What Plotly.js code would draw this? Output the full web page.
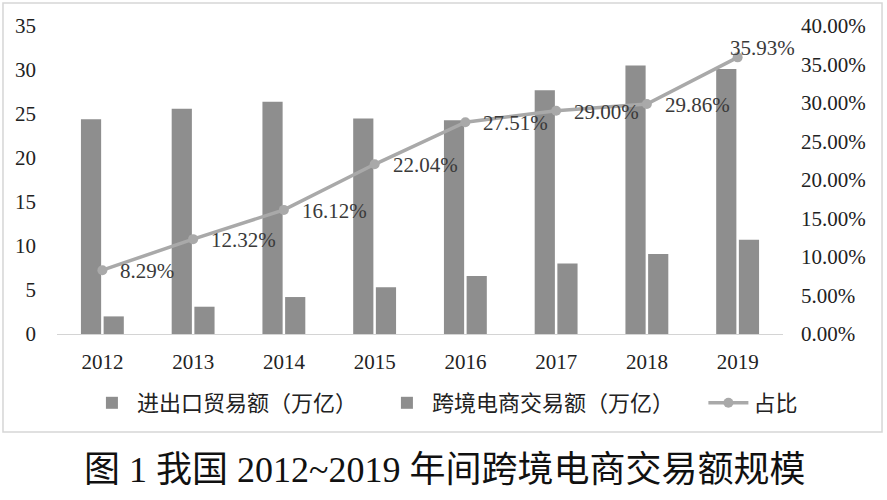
<!DOCTYPE html>
<html>
<head>
<meta charset="utf-8">
<script src="https://cdn.plot.ly/plotly-3.0.1.min.js"></script>
<style>html,body{margin:0;padding:0;background:#fff;}#chart{width:887px;height:500px;}</style>
</head>
<body>
<div id="chart"></div>
<script>
// ---- data ----
const years = ['2012','2013','2014','2015','2016','2017','2018','2019'];
const tradeTotal = [24.4, 25.6, 26.4, 24.5, 24.3, 27.7, 30.5, 30.1];      // 进出口贸易额（万亿）
const crossBorder = [2.0, 3.1, 4.2, 5.3, 6.6, 8.0, 9.1, 10.7];          // 跨境电商交易额（万亿）
const share = [0.0829, 0.1232, 0.1612, 0.2204, 0.2751, 0.2900, 0.2986, 0.3593]; // 占比
const shareLabels = ['8.29%','12.32%','16.12%','22.04%','27.51%','29.00%','29.86%','35.93%'];
const seriesNames = ['进出口贸易额（万亿）','跨境电商交易额（万亿）','占比'];
const captionText = '图 1 我国 2012~2019 年间跨境电商交易额规模';

const serif = 'Liberation Serif, Times New Roman, serif';
const cjk = 'Liberation Serif, Noto Sans CJK SC, serif';
const barColor = '#8e8e8e';
const lineColor = '#a9a9a9';

const traces = [
  {type:'bar', name:seriesNames[0], x:years, y:tradeTotal, marker:{color:barColor}, yaxis:'y', legend:'legend'},
  {type:'bar', name:seriesNames[1], x:years, y:crossBorder, marker:{color:barColor}, yaxis:'y', legend:'legend'},
  {type:'scatter', mode:'lines+markers', name:seriesNames[2], x:years, y:share, yaxis:'y2', legend:'legend2',
   line:{color:lineColor, width:3.5}, marker:{color:lineColor, size:10}}
];

const annotations = years.map((yr, i) => {
  const last = i === years.length - 1;
  return {
    x: i, y: share[i], xref:'x', yref:'y2',
    text: shareLabels[i], showarrow:false,
    xanchor:'left', yanchor:'middle',
    xshift: last ? -10 : 16, yshift: last ? 9 : -1,
    font:{family:serif, size:21, color:'#3a3a3a'}
  };
});
annotations.push({
  xref:'paper', yref:'paper', x:0.534, y:-0.442, xanchor:'center', yanchor:'middle',
  text: captionText, showarrow:false,
  font:{family:cjk, size:36, color:'#111'}
});

const legendFont = {family:'Noto Sans CJK SC, sans-serif', size:22, color:'#222'};
const layout = {
  width:887, height:500,
  margin:{l:57, r:104, t:26, b:166, autoexpand:false},
  paper_bgcolor:'#fff', plot_bgcolor:'#fff',
  barmode:'group', bargap:0.5, bargroupgap:0.11,
  showlegend:true, hovermode:false,
  legend:{orientation:'h', xref:'container', yref:'container', x:0.098, y:0.194, xanchor:'left', yanchor:'middle',
    font:legendFont, entrywidth:240, entrywidthmode:'pixels', itemwidth:40, bgcolor:'rgba(0,0,0,0)'},
  legend2:{orientation:'h', xref:'container', yref:'container', x:0.793, y:0.194, xanchor:'left', yanchor:'middle',
    font:legendFont, itemwidth:40, bgcolor:'rgba(0,0,0,0)'},
  xaxis:{type:'category', range:[-0.5, years.length - 0.5], autorange:false,
    showgrid:false, zeroline:false, showline:true, linecolor:'#d4d4d4', linewidth:1,
    ticks:'', ticklabelstandoff:9, automargin:false, tickfont:{family:serif, size:21, color:'#222'}},
  yaxis:{range:[0,35], dtick:5, showgrid:false, zeroline:false, showline:false, ticks:'', automargin:false,
    ticklabelstandoff:20, tickfont:{family:serif, size:21, color:'#222'}},
  yaxis2:{range:[0,0.40], dtick:0.05, tickformat:'.2%', overlaying:'y', side:'right', automargin:false,
    showgrid:false, zeroline:false, showline:false, ticks:'',
    ticklabelstandoff:17, tickfont:{family:serif, size:21, color:'#222'}},
  annotations: annotations,
  shapes:[{type:'rect', xref:'paper', yref:'paper', x0:-0.0744, x1:1.1364, y0:-0.318, y1:1.0747,
    line:{color:'#d6d6d6', width:1.5}, fillcolor:'rgba(0,0,0,0)', layer:'below'}]
};

Plotly.newPlot('chart', traces, layout, {displayModeBar:false, staticPlot:true});
</script>
</body>
</html>
